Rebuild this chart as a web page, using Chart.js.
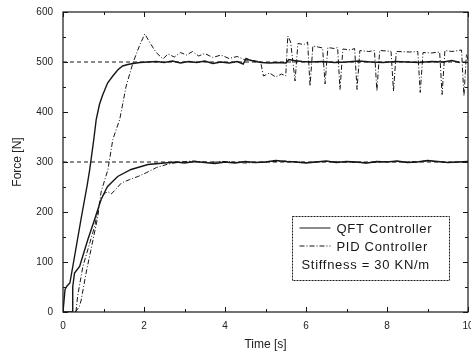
<!DOCTYPE html>
<html>
<head>
<meta charset="utf-8">
<script src="https://cdn.jsdelivr.net/npm/chart.js@4.4.1/dist/chart.umd.min.js"></script>
<style>
  html, body { margin: 0; padding: 0; background: #fff; }
  #wrap { width: 471px; height: 356px; }
</style>
</head>
<body>
<div id="wrap"><canvas id="forceChart" width="471" height="356"></canvas></div>
<script>
// reference force levels [N]
const refLevels = [500, 300];

// QFT controller, 500 N step
const qft500T = [0, 0.05, 0.1, 0.17, 0.3, 0.45, 0.6, 0.66, 0.76, 0.82, 0.9, 0.97, 1.1, 1.23, 1.35, 1.47, 1.6, 1.73, 1.9, 2.1, 2.3, 2.5, 2.7, 2.9, 3.1, 3.3, 3.5, 3.7, 3.9, 4.1, 4.3, 4.45, 4.52, 4.6, 4.75, 4.9, 5.1, 5.3, 5.5, 5.58, 5.7, 5.9, 6.1, 6.4, 6.7, 7.0, 7.3, 7.6, 7.9, 8.2, 8.5, 8.8, 9.1, 9.4, 9.6, 9.8];
const qft500F = [0, 45, 52, 58, 118, 188, 255, 285, 345, 385, 415, 432, 458, 472, 484, 492, 495, 497, 499, 500, 501, 499, 502, 498, 501, 499, 502, 497, 500, 498, 501, 496, 507, 504, 501, 499, 498, 499, 498, 505, 503, 501, 500, 501, 499, 500, 502, 500, 499, 501, 500, 499, 501, 500, 503, 499];

// PID controller, 500 N step
const pid500T = [0.3, 0.4, 0.45, 0.57, 0.74, 0.86, 0.94, 1.11, 1.23, 1.4, 1.56, 1.73, 1.9, 2.02, 2.15, 2.3, 2.47, 2.59, 2.75, 2.9, 3.05, 3.2, 3.35, 3.5, 3.7, 3.9, 4.1, 4.3, 4.5, 4.7, 4.88, 4.95, 5.1, 5.25, 5.4, 5.5, 5.55, 5.62, 5.73, 5.8, 5.95, 6.04, 6.1, 6.17, 6.3, 6.41, 6.47, 6.54, 6.7, 6.78, 6.84, 6.91, 7.1, 7.2, 7.26, 7.33, 7.55, 7.69, 7.75, 7.82, 8.0, 8.1, 8.16, 8.23, 8.55, 8.76, 8.82, 8.89, 9.1, 9.3, 9.36, 9.43, 9.6, 9.84, 9.9, 9.96, 10];
const pid500F = [0, 10, 24, 78, 144, 191, 240, 285, 345, 385, 452, 499, 535, 556, 538, 519, 506, 516, 510, 519, 514, 521, 512, 517, 509, 514, 507, 511, 504, 503, 500, 472, 478, 470, 476, 472, 552, 540, 462, 537, 535, 540, 452, 532, 530, 528, 456, 529, 527, 529, 445, 526, 524, 527, 445, 523, 521, 523, 442, 523, 522, 521, 442, 521, 520, 521, 439, 519, 518, 520, 435, 523, 521, 524, 432, 515, 505];

// QFT controller, 300 N step
const qft300T = [0, 0.23, 0.24, 0.285, 0.41, 0.61, 0.78, 0.94, 1.03, 1.1, 1.35, 1.68, 2.1, 2.5, 2.8, 3.0, 3.25, 3.5, 3.75, 4.0, 4.25, 4.5, 4.75, 5.0, 5.25, 5.5, 5.75, 6.0, 6.25, 6.5, 6.75, 7.0, 7.25, 7.5, 7.75, 8.0, 8.25, 8.5, 8.75, 9.0, 9.25, 9.5, 9.75, 10];
const qft300F = [0, 0, 50, 78, 91, 144, 185, 225, 240, 251, 271, 285, 295, 298, 300, 298, 301, 299, 297, 300, 298, 301, 299, 300, 303, 301, 300, 298, 300, 302, 299, 301, 300, 298, 301, 300, 302, 299, 300, 303, 301, 299, 300, 301];

// PID controller, 300 N step
const pid300T = [0.32, 0.36, 0.49, 0.61, 0.78, 0.9, 1.03, 1.12, 1.19, 1.3, 1.44, 1.65, 1.85, 2.07, 2.31, 2.6, 2.9, 3.2, 3.6, 4.0, 4.5, 5.0, 5.5, 6.0, 6.5, 7.0, 7.5, 8.0, 8.5, 9.0, 9.5, 10];
const pid300F = [0, 31, 91, 124, 171, 218, 238, 240, 236, 245, 258, 265, 271, 279, 289, 296, 300, 302, 299, 301, 298, 300, 302, 299, 301, 300, 298, 301, 300, 302, 299, 300];

const xTicks = [0, 2, 4, 6, 8, 10];
const yTicks = [0, 100, 200, 300, 400, 500, 600];

const ink = '#161616';
const fontName = "'Liberation Sans', Arial, sans-serif";

function pts(ts, fs) {
    return ts.map((t, i) => ({ x: t, y: fs[i] }));
}

function refLine(level) {
    return {
        data: [{ x: 0, y: level }, { x: 10, y: level }],
        borderColor: ink,
        borderWidth: 1,
        borderDash: [4, 3],
        pointRadius: 0
    };
}

// frame, inward ticks and the boxed legend
const framePlugin = {
    id: 'frame',
    afterDraw(chart) {
        const c = chart.ctx;
        const a = chart.chartArea;
        const xs = chart.scales.x;
        const ys = chart.scales.y;
        c.save();
        c.strokeStyle = ink;
        c.lineWidth = 1.2;
        c.setLineDash([]);
        c.strokeRect(a.left, a.top, a.right - a.left, a.bottom - a.top);

        c.lineWidth = 1;
        for (let v = 0; v <= 600; v += 50) {
            const y = Math.round(ys.getPixelForValue(v)) + 0.5;
            const len = v % 100 === 0 ? 5 : 3;
            c.beginPath();
            c.moveTo(a.left, y); c.lineTo(a.left + len, y);
            c.moveTo(a.right, y); c.lineTo(a.right - len, y);
            c.stroke();
        }
        for (let v = 0; v <= 10; v += 1) {
            const x = Math.round(xs.getPixelForValue(v)) + 0.5;
            const len = v % 2 === 0 ? 5 : 3;
            c.beginPath();
            c.moveTo(x, a.bottom); c.lineTo(x, a.bottom - len);
            c.moveTo(x, a.top); c.lineTo(x, a.top + len);
            c.stroke();
        }

        // legend box
        const bx = a.right - 175.5, by = a.bottom - 95.5, bw = 157, bh = 64;
        c.fillStyle = '#fff';
        c.fillRect(bx, by, bw, bh);
        c.setLineDash([2, 1]);
        c.strokeRect(bx, by, bw, bh);

        c.font = '13px ' + fontName;
        c.letterSpacing = '0.7px';
        c.fillStyle = ink;
        c.textBaseline = 'alphabetic';
        const rows = [
            { text: 'QFT Controller', dash: [] },
            { text: 'PID Controller', dash: [5, 2, 1, 2] }
        ];
        rows.forEach((r, i) => {
            const yy = by + 16 + i * 18;
            c.setLineDash(r.dash);
            c.lineWidth = 1;
            c.beginPath();
            c.moveTo(bx + 7, yy - 4.5);
            c.lineTo(bx + 38, yy - 4.5);
            c.stroke();
            c.fillText(r.text, bx + 44, yy);
        });
        c.fillText('Stiffness = 30 KN/m', bx + 9, by + 52);
        c.restore();
    }
};

new Chart(document.getElementById('forceChart'), {
    type: 'line',
    data: {
        datasets: [
            refLine(refLevels[0]),
            refLine(refLevels[1]),
            {
                label: 'PID Controller',
                data: pts(pid500T, pid500F),
                borderColor: ink,
                borderWidth: 1,
                borderDash: [5, 2, 1, 2],
                pointRadius: 0
            },
            {
                label: 'PID Controller',
                data: pts(pid300T, pid300F),
                borderColor: ink,
                borderWidth: 1,
                borderDash: [5, 2, 1, 2],
                pointRadius: 0
            },
            {
                label: 'QFT Controller',
                data: pts(qft500T, qft500F),
                borderColor: ink,
                borderWidth: 1.4,
                pointRadius: 0
            },
            {
                label: 'QFT Controller',
                data: pts(qft300T, qft300F),
                borderColor: ink,
                borderWidth: 1.4,
                pointRadius: 0
            }
        ]
    },
    options: {
        responsive: false,
        animation: false,
        layout: { padding: { left: 0, right: 3, top: 12, bottom: 0 } },
        scales: {
            x: {
                type: 'linear',
                min: 0,
                max: 10,
                grid: { display: false, drawTicks: false },
                border: { display: false },
                afterBuildTicks: s => { s.ticks = xTicks.map(v => ({ value: v })); },
                afterFit: s => { s.height = 44; s.paddingLeft = 0; s.paddingRight = 0; },
                ticks: { padding: 8, color: '#222', font: { family: fontName, size: 10 }, maxRotation: 0 },
                title: {
                    display: true,
                    text: 'Time [s]',
                    color: '#222',
                    font: { family: fontName, size: 12 },
                    padding: { top: 0, bottom: 4 }
                }
            },
            y: {
                min: 0,
                max: 600,
                grid: { display: false, drawTicks: false },
                border: { display: false },
                afterBuildTicks: s => { s.ticks = yTicks.map(v => ({ value: v })); },
                afterFit: s => { s.width = 63; s.paddingTop = 0; s.paddingBottom = 0; },
                ticks: { padding: 10, color: '#222', font: { family: fontName, size: 10 } },
                title: {
                    display: true,
                    text: 'Force [N]',
                    color: '#222',
                    font: { family: fontName, size: 12 },
                    padding: { top: 10, bottom: 0 }
                }
            }
        },
        plugins: {
            legend: { display: false },
            tooltip: { enabled: false }
        }
    },
    plugins: [framePlugin]
});
</script>
</body>
</html>
